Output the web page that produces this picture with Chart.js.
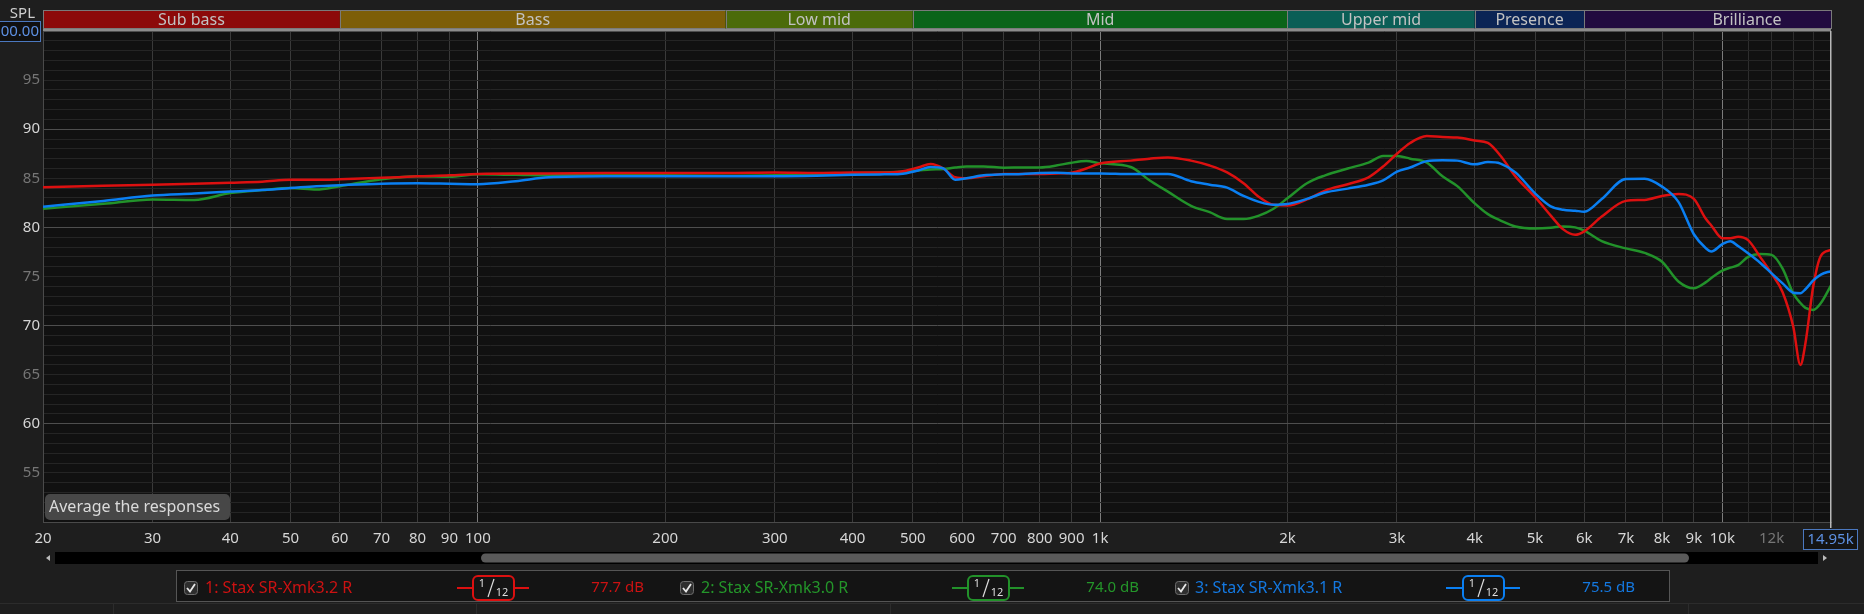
<!DOCTYPE html>
<html>
<head>
<meta charset="utf-8">
<script src="https://cdn.jsdelivr.net/npm/chart.js@4.4.1/dist/chart.umd.min.js"></script>
<style>
  html, body { margin: 0; padding: 0; background: #1e1e1e; }
  canvas { display: block; }
</style>
</head>
<body>
<canvas id="fr" width="1864" height="614"></canvas>
<script>
// frequency points (Hz) the three responses are sampled at
const freqs = [20, 25, 30, 35, 40, 45, 50, 55, 60, 70, 80, 90, 100, 115, 130, 160, 200, 250, 300, 350,
  400, 450, 477, 510, 534, 560, 585, 610, 650, 700, 750, 800, 850, 900, 950, 1000, 1120, 1200, 1285, 1400,
  1500, 1600, 1700, 1800, 1900, 2000, 2150, 2300, 2500, 2700, 2850, 3000, 3150, 3350, 3550, 3750, 4000, 4200, 4400, 4650,
  5000, 5300, 5550, 5800, 6000, 6400, 7000, 7500, 8000, 8500, 9000, 9400, 9600, 10000, 10300, 10600, 11000, 11500, 12000, 12500,
  13000, 13350, 13600, 14000, 14400, 14950];

// SPL (dB)
const stax32 = [84.1, 84.25, 84.35, 84.45, 84.55, 84.65, 84.85, 84.85, 84.9, 85.05, 85.2, 85.3, 85.45, 85.5, 85.5, 85.55, 85.55, 85.55, 85.6, 85.55,
  85.6, 85.6, 85.67, 86.1, 86.45, 86.0, 85.1, 85.0, 85.2, 85.44, 85.45, 85.44, 85.5, 85.57, 86.0, 86.5, 86.8, 87.0, 87.13, 86.8,
  86.3, 85.6, 84.5, 83.1, 82.3, 82.24, 82.85, 83.75, 84.4, 85.1, 86.2, 87.5, 88.6, 89.3, 89.2, 89.15, 88.85, 88.6, 87.3, 85.2,
  83.1, 81.2, 79.8, 79.25, 79.6, 81.1, 82.7, 82.8, 83.2, 83.4, 82.9, 80.9, 80.2, 78.9, 78.9, 79.05, 78.7, 77.0, 75.3, 73.4,
  69.9, 66.0, 68.2, 74.0, 77.1, 77.7];

const stax30 = [81.9, 82.4, 82.85, 82.8, 83.5, 83.8, 84.0, 83.85, 84.2, 84.9, 85.2, 85.15, 85.4, 85.35, 85.3, 85.3, 85.3, 85.25, 85.3, 85.4,
  85.5, 85.6, 85.67, 85.8, 85.9, 85.95, 86.1, 86.2, 86.2, 86.08, 86.1, 86.11, 86.3, 86.59, 86.75, 86.52, 86.15, 84.8, 83.64, 82.2,
  81.55, 80.85, 80.85, 81.2, 81.9, 82.96, 84.5, 85.3, 86.0, 86.6, 87.27, 87.27, 87.0, 86.6, 85.2, 84.2, 82.45, 81.35, 80.7, 80.1,
  79.9, 79.97, 80.1, 80.0, 79.66, 78.6, 77.86, 77.4, 76.5, 74.5, 73.8, 74.4, 74.85, 75.59, 75.9, 76.15, 77.0, 77.3, 77.2, 75.8,
  73.28, 72.3, 71.8, 71.6, 72.3, 74.1];

const stax31 = [82.1, 82.7, 83.25, 83.45, 83.65, 83.8, 84.0, 84.2, 84.3, 84.45, 84.5, 84.45, 84.4, 84.7, 85.1, 85.2, 85.2, 85.2, 85.2, 85.25,
  85.35, 85.4, 85.44, 85.8, 86.15, 86.0, 84.85, 85.0, 85.3, 85.4, 85.45, 85.55, 85.57, 85.5, 85.5, 85.5, 85.44, 85.44, 85.44, 84.7,
  84.35, 84.05, 83.2, 82.6, 82.3, 82.38, 82.9, 83.55, 83.95, 84.35, 84.8, 85.67, 86.1, 86.75, 86.85, 86.8, 86.42, 86.65, 86.5, 85.6,
  83.47, 82.15, 81.8, 81.7, 81.6, 82.9, 84.93, 84.95, 84.15, 82.6, 79.3, 77.9, 77.55, 78.3, 78.6, 78.1, 77.36, 76.4, 75.32, 74.3,
  73.35, 73.3, 73.7, 74.6, 75.2, 75.55];

const seriesNames = ['1: Stax SR-Xmk3.2 R', '2: Stax SR-Xmk3.0 R', '3: Stax SR-Xmk3.1 R'];
const cursorValues = ['77.7 dB', '74.0 dB', '75.5 dB'];
const seriesColors = ['#dc1010', '#22922a', '#0a7ff2'];
const legendTextColors = ['#cc1212', '#24962a', '#1478e0'];

// x grid lines and their labels
const xGridFreqs = [20, 30, 40, 50, 60, 70, 80, 90, 100, 200, 300, 400, 500, 600, 700, 800, 900,
  1000, 2000, 3000, 4000, 5000, 6000, 7000, 8000, 9000, 10000, 11000, 12000, 13000, 14000];
const xLabelFreqs = [20, 30, 40, 50, 60, 70, 80, 90, 100, 200, 300, 400, 500, 600, 700, 800, 900,
  1000, 2000, 3000, 4000, 5000, 6000, 7000, 8000, 9000, 10000, 12000];
const xLabelText = ['20', '30', '40', '50', '60', '70', '80', '90', '100', '200', '300', '400', '500', '600', '700', '800', '900',
  '1k', '2k', '3k', '4k', '5k', '6k', '7k', '8k', '9k', '10k', '12k'];
const yLevels = [];
for (let v = 50; v <= 100; v++) yLevels.push(v);

// frequency bands shown above the plot (Brilliance runs past the visible range)
const bandNames = ['Sub bass', 'Bass', 'Low mid', 'Mid', 'Upper mid', 'Presence', 'Brilliance'];
const bandEdges = [20, 60, 250, 500, 2000, 4000, 6000, 20000];
const bandColors = ['#8c0a0a', '#7d5e08', '#4b6b0a', '#0b6419', '#0b5e56', '#0b2455', '#210b3f'];

const FONT = '"Noto Sans", "Open Sans", sans-serif';

function checkbox(ctx, x, y) {
    ctx.beginPath();
    ctx.roundRect(x + 0.5, y + 0.5, 13, 13, 3);
    ctx.fillStyle = '#2e2e2e';
    ctx.fill();
    ctx.strokeStyle = '#6c6c6c';
    ctx.lineWidth = 1;
    ctx.stroke();
    ctx.beginPath();
    ctx.moveTo(x + 3, y + 7);
    ctx.lineTo(x + 6, y + 10.5);
    ctx.lineTo(x + 11, y + 3);
    ctx.strokeStyle = '#e8e8e8';
    ctx.lineWidth = 1.8;
    ctx.stroke();
}

function smoothIcon(ctx, x0, x1, bx, color) {
    const cy = 588;
    ctx.strokeStyle = color;
    ctx.lineWidth = 2;
    ctx.beginPath();
    ctx.moveTo(x0, cy);
    ctx.lineTo(x1, cy);
    ctx.stroke();
    ctx.beginPath();
    ctx.roundRect(bx, 576, 41, 24, 5);
    ctx.fillStyle = '#141414';
    ctx.fill();
    ctx.stroke();
    ctx.fillStyle = '#dddddd';
    ctx.font = '11px ' + FONT;
    ctx.textAlign = 'center';
    ctx.textBaseline = 'middle';
    ctx.fillText('1', bx + 9, 584);
    ctx.fillText('12', bx + 29, 593);
    ctx.strokeStyle = '#dddddd';
    ctx.lineWidth = 1.2;
    ctx.beginPath();
    ctx.moveTo(bx + 15, 597);
    ctx.lineTo(bx + 21, 579);
    ctx.stroke();
}

const decor = {
    id: 'decor',
    beforeDraw(chart) {
        const {ctx, chartArea: a} = chart;
        ctx.save();
        ctx.fillStyle = '#1e1e1e';
        ctx.fillRect(0, 0, chart.width, chart.height);
        ctx.fillStyle = '#111111';
        ctx.fillRect(a.left, a.top, a.right - a.left, a.bottom - a.top);
        ctx.restore();
    },
    afterDraw(chart) {
        const {ctx, chartArea: a} = chart;
        const x = chart.scales.x;
        ctx.save();

        // band bar, clipped at the right end of the view
        ctx.save();
        ctx.beginPath();
        ctx.rect(a.left, 0, a.right - a.left + 1, 31);
        ctx.clip();
        bandNames.forEach((name, i) => {
            const x0 = x.getPixelForValue(bandEdges[i]);
            const x1 = x.getPixelForValue(bandEdges[i + 1]);
            ctx.fillStyle = bandColors[i];
            ctx.fillRect(x0, 10, x1 - x0, 19);
            ctx.strokeStyle = '#7a7a7a';
            ctx.lineWidth = 1;
            ctx.strokeRect(Math.round(x0) + 0.5, 10.5, Math.round(Math.min(x1, a.right)) - Math.round(x0), 18);
            ctx.fillStyle = '#c2c2c2';
            ctx.font = '16px ' + FONT;
            ctx.textAlign = 'center';
            ctx.textBaseline = 'middle';
            ctx.fillText(name, (x0 + x1) / 2, 20);
        });
        ctx.restore();
        ctx.fillStyle = '#8c8c8c';
        ctx.fillRect(a.left, 29, a.right - a.left, 2);

        // cursor line at the right edge
        ctx.fillStyle = '#b8b8b8';
        ctx.fillRect(a.right - 1, a.top, 1.5, a.bottom - a.top + 6);

        // SPL caption and top value box
        ctx.font = '15px ' + FONT;
        ctx.textAlign = 'right';
        ctx.textBaseline = 'middle';
        ctx.fillStyle = '#cfcfcf';
        ctx.fillText('SPL', 35, 14);
        ctx.fillStyle = '#101010';
        ctx.fillRect(-5, 21, 46, 20);
        ctx.strokeStyle = '#4b78bf';
        ctx.lineWidth = 1;
        ctx.strokeRect(-5.5, 21.5, 46, 20);
        ctx.fillStyle = '#5d90e2';
        ctx.fillText('100.00', 39, 31.5);

        // button
        ctx.beginPath();
        ctx.roundRect(45, 494, 185, 26, 5);
        ctx.fillStyle = '#474747';
        ctx.fill();
        ctx.fillStyle = '#dadada';
        ctx.font = '16px ' + FONT;
        ctx.textAlign = 'left';
        ctx.fillText('Average the responses', 49, 507);

        // right value box on the x axis
        ctx.fillStyle = '#141414';
        ctx.fillRect(1803, 529, 54, 20);
        ctx.strokeStyle = '#4b78bf';
        ctx.strokeRect(1803.5, 529.5, 54, 20);
        ctx.fillStyle = '#5d90e2';
        ctx.font = '15px ' + FONT;
        ctx.textAlign = 'center';
        ctx.fillText('14.95k', 1830.5, 539.5);

        // scrollbar
        ctx.fillStyle = '#000000';
        ctx.fillRect(55, 552, 1763, 12);
        ctx.beginPath();
        ctx.roundRect(481, 553.5, 1208, 9, 4.5);
        ctx.fillStyle = '#5a5a5a';
        ctx.fill();
        ctx.fillStyle = '#bbbbbb';
        ctx.beginPath();
        ctx.moveTo(46, 558); ctx.lineTo(50, 555); ctx.lineTo(50, 561); ctx.closePath();
        ctx.fill();
        ctx.beginPath();
        ctx.moveTo(1827, 558); ctx.lineTo(1823, 555); ctx.lineTo(1823, 561); ctx.closePath();
        ctx.fill();

        // legend panel
        ctx.fillStyle = '#141414';
        ctx.fillRect(176, 570, 1493, 32);
        ctx.strokeStyle = '#555555';
        ctx.strokeRect(176.5, 570.5, 1493, 31);

        const cbX = [184, 680, 1175];
        const txtX = [205, 701, 1195];
        const icon = [[457, 529, 473], [952, 1024, 968], [1446, 1520, 1463]];
        const valRight = [644, 1139, 1635];
        seriesNames.forEach((name, i) => {
            checkbox(ctx, cbX[i], 581);
            ctx.fillStyle = legendTextColors[i];
            ctx.font = '16px ' + FONT;
            ctx.textAlign = 'left';
            ctx.textBaseline = 'middle';
            ctx.fillText(name, txtX[i], 588);
            ctx.font = '15px ' + FONT;
            ctx.textAlign = 'right';
            ctx.fillText(cursorValues[i], valRight[i], 588);
            smoothIcon(ctx, icon[i][0], icon[i][1], icon[i][2], seriesColors[i]);
        });

        // status strip
        ctx.fillStyle = '#2c2c2c';
        ctx.fillRect(0, 603, chart.width, 1);
        [113, 476, 890, 1688].forEach(px => ctx.fillRect(px, 604, 1, 10));

        ctx.restore();
    }
};

const chart = new Chart(document.getElementById('fr'), {
    type: 'line',
    data: {
        datasets: [
            {label: seriesNames[0], data: freqs.map((f, i) => ({x: f, y: stax32[i]})), borderColor: seriesColors[0], order: 2},
            {label: seriesNames[1], data: freqs.map((f, i) => ({x: f, y: stax30[i]})), borderColor: seriesColors[1], order: 3},
            {label: seriesNames[2], data: freqs.map((f, i) => ({x: f, y: stax31[i]})), borderColor: seriesColors[2], order: 1}
        ]
    },
    options: {
        responsive: false,
        animation: false,
        devicePixelRatio: 1,
        layout: {padding: {left: 0, right: 33, top: 31, bottom: 0}},
        elements: {
            point: {radius: 0},
            line: {borderWidth: 2.5, cubicInterpolationMode: 'monotone', fill: false}
        },
        plugins: {
            legend: {display: false},
            tooltip: {enabled: false}
        },
        scales: {
            x: {
                type: 'logarithmic',
                min: 20,
                max: 14950,
                afterBuildTicks: s => { s.ticks = xGridFreqs.map(v => ({value: v})); },
                afterFit: s => { s.height = 92; },
                ticks: {
                    autoSkip: false,
                    maxRotation: 0,
                    padding: 8,
                    font: {family: FONT, size: 15},
                    color: c => (c.tick && c.tick.value === 12000) ? '#767676' : '#d6d6d6',
                    callback: v => {
                        const i = xLabelFreqs.indexOf(v);
                        return i >= 0 ? xLabelText[i] : '';
                    }
                },
                grid: {
                    drawTicks: false,
                    lineWidth: 1,
                    color: c => {
                        const v = c.tick ? c.tick.value : 0;
                        if (v === 100 || v === 1000 || v === 10000) return '#7c7c7c';
                        if (v > 10000) return '#2e2e2e';
                        return '#3a3a3a';
                    }
                },
                border: {color: '#4a4a4a'}
            },
            y: {
                min: 50,
                max: 100,
                afterBuildTicks: s => { s.ticks = yLevels.map(v => ({value: v})); },
                afterFit: s => { s.width = 43; },
                ticks: {
                    autoSkip: false,
                    padding: 3,
                    font: {family: FONT, size: 15},
                    color: c => (c.tick && c.tick.value % 10 === 0) ? '#d6d6d6' : '#767676',
                    callback: v => (v % 5 === 0 && v !== 50 && v !== 100) ? String(v) : ''
                },
                grid: {
                    drawTicks: false,
                    lineWidth: 1,
                    color: c => (c.tick && c.tick.value % 10 === 0) ? '#4e4e4e' : '#252525'
                },
                border: {color: '#4a4a4a'}
            }
        }
    },
    plugins: [decor]
});
</script>
</body>
</html>
